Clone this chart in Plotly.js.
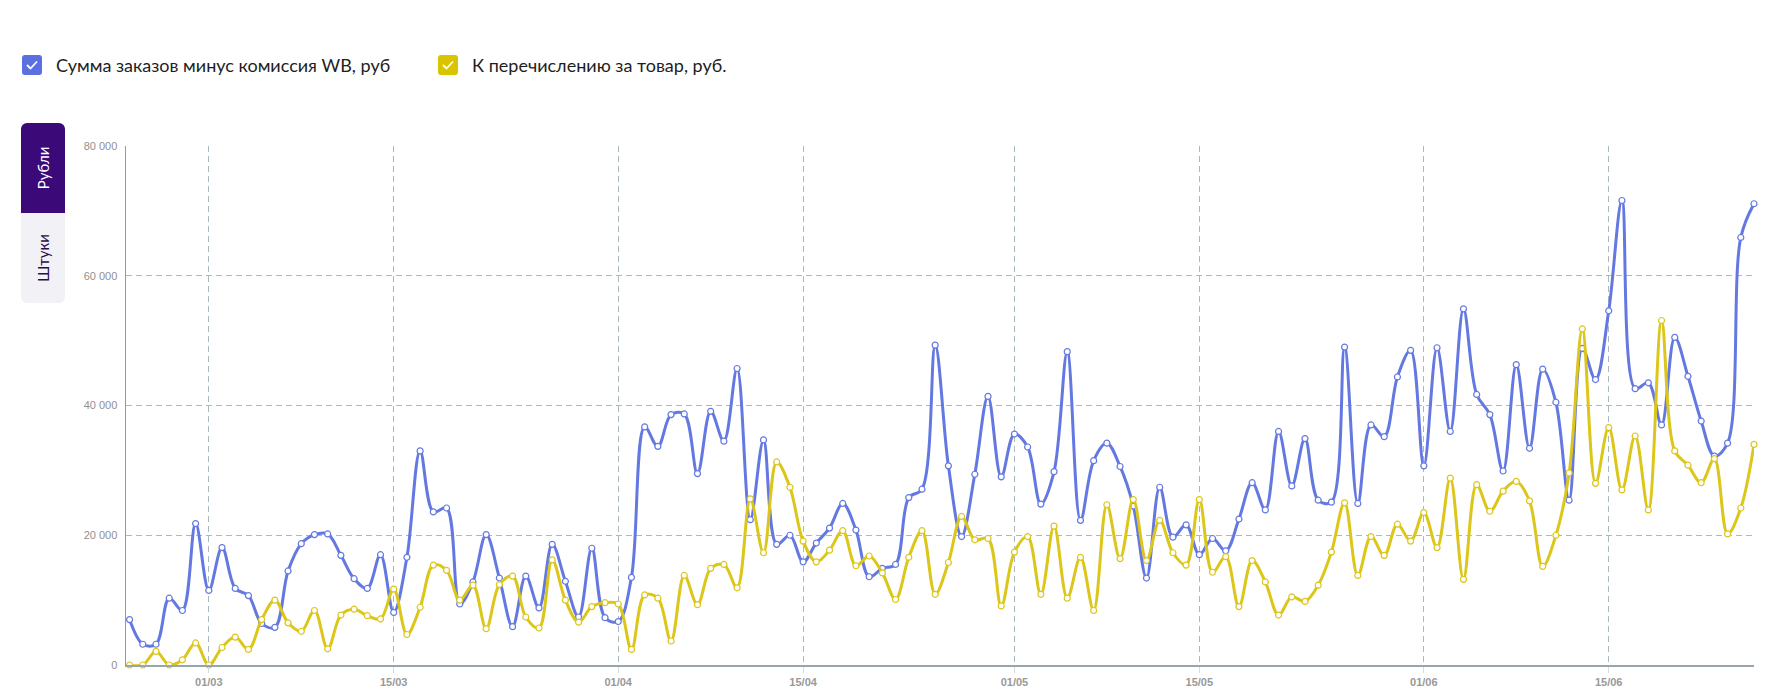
<!DOCTYPE html>
<html lang="ru">
<head>
<meta charset="utf-8">
<script src="https://cdn.plot.ly/plotly-3.0.1.min.js"></script>
<style>
  html, body { margin: 0; padding: 0; background: #fff; }
  body { width: 1774px; height: 700px; position: relative; overflow: hidden; font-family: Lato, "Noto Sans", sans-serif; }
  #plot { position: absolute; left: 0; top: 0; width: 1774px; height: 700px; }
  .legend-item { position: absolute; top: 54px; display: flex; align-items: center; font-size: 18px; color: #1e1e1e; }
  .box { width: 20px; height: 20px; border-radius: 3px; margin-right: 14px; display: flex; align-items: center; justify-content: center; }
  .tabs { position: absolute; left: 21px; top: 123px; width: 44px; }
  .tab { height: 90px; display: flex; align-items: center; justify-content: center; }
  .tab span { transform: rotate(-90deg); white-space: nowrap; font-size: 15px; }
  .tab.active { background: #3b0a78; color: #fff; border-radius: 6px 6px 0 0; }
  .tab.idle { background: #f1f1f6; color: #2a0a50; border-radius: 0 0 6px 6px; }
</style>
</head>
<body>
<div id="plot"></div>

<div class="legend-item" style="left:22px">
  <div class="box" style="background:#5b6fe0">
    <svg width="14" height="12" viewBox="0 0 14 12"><path d="M2 6 L5.5 9.5 L12 2.5" fill="none" stroke="#fff" stroke-width="1.8"/></svg>
  </div>
  <span>Сумма заказов минус комиссия WB, руб</span>
</div>
<div class="legend-item" style="left:438px">
  <div class="box" style="background:#d8c400">
    <svg width="14" height="12" viewBox="0 0 14 12"><path d="M2 6 L5.5 9.5 L12 2.5" fill="none" stroke="#fff" stroke-width="1.8"/></svg>
  </div>
  <span>К перечислению за товар, руб.</span>
</div>

<div class="tabs">
  <div class="tab active"><span>Рубли</span></div>
  <div class="tab idle"><span>Штуки</span></div>
</div>

<script>
// daily values, 24 Feb .. 26 Jun
const startDate = "2024-02-24";

const ordersMinusFee = [
  7000, 3200, 3200, 10300, 8400, 21800,
  11500, 18100, 11800, 10700, 6400, 5800, 14500, 18700, 20100, 20200,
  16900, 13300, 11800, 17000, 8100, 16600, 33000, 23600, 24200, 9400,
  12800, 20100, 13400, 5900, 13700, 8800, 18600, 12900, 7400, 18000, 7300,
  6700, 13500, 36700, 33700, 38600, 38700, 29500, 39100, 34500, 45700,
  22400, 34700, 18600, 20000, 15900, 18800, 21100, 24900, 20800, 13600,
  14900, 15500, 25800, 27100, 49300, 30700, 19800, 29400, 41400, 29000,
  35600, 33600, 24800, 29800, 48300, 22300, 31500, 34200, 30600, 24500,
  13400, 27400, 19700, 21600, 17000, 19500, 17600, 22500, 28100, 23900,
  36000, 27600, 34900, 25400, 25100, 49000, 24900, 37000, 35200, 44400, 48500,
  30700, 48900, 36000, 54900, 41700, 38600, 29900, 46300, 33400, 45600,
  40500, 25400, 48800, 44000, 54600, 71600, 42600, 43500, 37000, 50500,
  44500, 37600, 32200, 34200, 65900, 71100
];

const payout = [
  0, 0, 2100, 0, 800, 3400,
  0, 2700, 4300, 2400, 7000, 10000, 6500, 5200, 8400, 2500,
  7700, 8600, 7600, 7100, 11700, 4700, 8900, 15400, 14600, 10000,
  12300, 5600, 12400, 13700, 7400, 5700, 16200, 10000, 6600, 9000, 9600,
  9400, 2400, 10800, 10300, 3700, 13800, 9300, 14900, 15500, 11900,
  25600, 17300, 31300, 27400, 19100, 15900, 17700, 20700, 15300, 16800,
  14200, 10100, 16600, 20700, 10900, 15800, 22900, 19300, 19500, 9100,
  17400, 19800, 10900, 21400, 10300, 16600, 8400, 24700, 16400, 25500,
  16100, 22300, 17300, 15400, 25500, 14300, 16700, 9000, 16100, 12800,
  7700, 10500, 9800, 12300, 17400, 25000, 13800, 19800, 16900, 21700, 19100,
  23500, 18100, 28800, 13200, 27800, 23700, 26800, 28300, 25300, 15200,
  20000, 29600, 51800, 28000, 36600, 27000, 35300, 23900, 53100, 33000,
  30800, 28100, 31800, 20200, 24200, 34000
];

const tickDates = [
  "2024-03-01", "2024-03-15", "2024-04-01", "2024-04-15", "2024-05-01",
  "2024-05-15", "2024-06-01", "2024-06-15"
];
const tickLabels = ["01/03", "15/03", "01/04", "15/04", "01/05", "15/05", "01/06", "15/06"];

function dayList(start, n) {
  const out = [];
  const d = new Date(start + "T00:00:00Z");
  for (let i = 0; i < n; i++) {
    out.push(d.toISOString().slice(0, 10));
    d.setUTCDate(d.getUTCDate() + 1);
  }
  return out;
}

const days = dayList(startDate, ordersMinusFee.length);

function lineTrace(name, values, color) {
  return {
    type: "scatter",
    mode: "lines+markers",
    name,
    x: days,
    y: values,
    line: { color, width: 3, shape: "spline", smoothing: 1 },
    marker: { size: 6, color: "#fff", line: { color, width: 1.2 } },
    cliponaxis: false,
    hoverinfo: "skip"
  };
}

const traces = [
  lineTrace("Сумма заказов минус комиссия WB, руб", ordersMinusFee, "#6478e2"),
  lineTrace("К перечислению за товар, руб.", payout, "#dcc619")
];

const gridColor = "#aab8c0";

const layout = {
  width: 1774,
  height: 700,
  margin: { l: 126, r: 20, t: 146, b: 35 },
  showlegend: false,
  separators: ". ",
  paper_bgcolor: "#fff",
  plot_bgcolor: "#fff",
  xaxis: {
    type: "date",
    range: ["2024-02-23 17:30", "2024-06-26"],
    tickvals: tickDates,
    ticktext: tickLabels,
    showgrid: true,
    gridcolor: gridColor,
    griddash: "6px,4px",
    gridwidth: 1,
    showline: true,
    linecolor: "#97a5ae",
    linewidth: 1.5,
    zeroline: false,
    ticks: "outside",
    ticklen: 6,
    tickcolor: "#d5dce0",
    tickfont: { family: "Liberation Sans, Arial, sans-serif", size: 11, color: "#999", weight: "bold" }
  },
  yaxis: {
    range: [0, 80000],
    dtick: 20000,
    tickformat: ",d",
    showgrid: true,
    gridcolor: gridColor,
    griddash: "6px,4px",
    gridwidth: 1,
    showline: true,
    linecolor: "#8e9ca6",
    linewidth: 1.5,
    zeroline: false,
    ticks: "",
    ticklabelstandoff: 5,
    tickfont: { family: "Liberation Sans, Arial, sans-serif", size: 11, color: "#909090" }
  }
};

Plotly.newPlot("plot", traces, layout, { displayModeBar: false, staticPlot: true });
</script>
</body>
</html>
